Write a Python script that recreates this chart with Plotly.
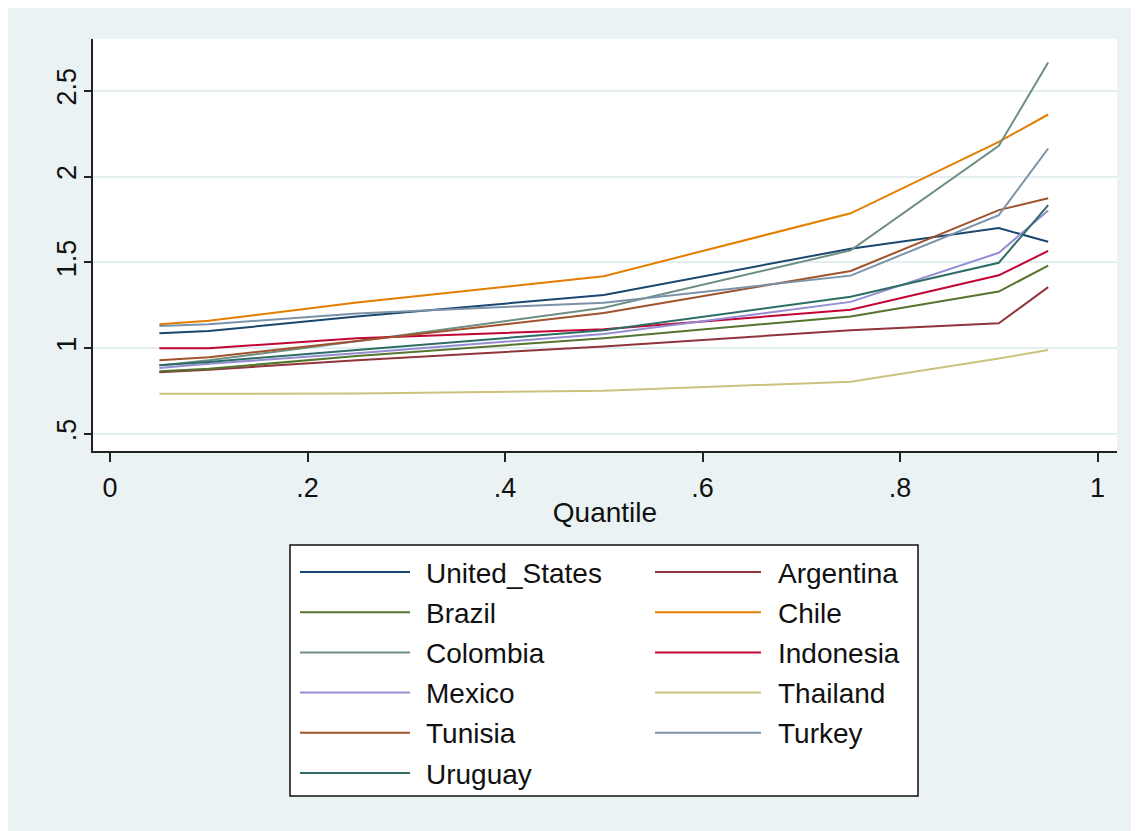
import plotly.graph_objects as go

# ---------------- data ----------------
quantiles = [0.05, 0.10, 0.25, 0.50, 0.75, 0.90, 0.95]

countries = ["United_States", "Argentina", "Brazil", "Chile", "Colombia",
             "Indonesia", "Mexico", "Thailand", "Tunisia", "Turkey", "Uruguay"]

united_states = [1.087, 1.10, 1.185, 1.31, 1.58, 1.70, 1.62]
argentina     = [0.86, 0.875, 0.93, 1.01, 1.105, 1.145, 1.356]
brazil        = [0.866, 0.88, 0.955, 1.058, 1.185, 1.33, 1.482]
chile         = [1.14, 1.16, 1.266, 1.42, 1.786, 2.203, 2.362]
colombia      = [0.90, 0.93, 1.04, 1.236, 1.57, 2.18, 2.665]
indonesia     = [1.00, 1.00, 1.058, 1.11, 1.224, 1.425, 1.567]
mexico        = [0.885, 0.91, 0.97, 1.083, 1.27, 1.556, 1.803]
thailand      = [0.734, 0.734, 0.736, 0.752, 0.805, 0.94, 0.99]
tunisia       = [0.93, 0.947, 1.042, 1.205, 1.45, 1.805, 1.874]
turkey        = [1.13, 1.14, 1.203, 1.265, 1.423, 1.776, 2.164]
uruguay       = [0.90, 0.92, 0.99, 1.105, 1.30, 1.498, 1.834]

series = [united_states, argentina, brazil, chile, colombia,
          indonesia, mexico, thailand, tunisia, turkey, uruguay]

colors = ["#1A476F", "#90353B", "#55752F", "#E37E00", "#6E8E84",
          "#C10534", "#938DD2", "#CAC27E", "#A0522D", "#7B92A8", "#2D6D66"]

x_tickvals = [0, 0.2, 0.4, 0.6, 0.8, 1.0]
x_ticktext = ["0", ".2", ".4", ".6", ".8", "1"]
y_tickvals = [0.5, 1.0, 1.5, 2.0, 2.5]
y_ticktext = [".5", "1", "1.5", "2", "2.5"]

# ---------------- layout geometry ----------------
OFF = 8                                  # page body margin
W, H = 1139 - OFF, 831 - OFF
L, R, T, B = 93, 1117, 39, 451          # plot area in page pixels
FONT = "Liberation Sans, Arial, sans-serif"
BG = "#EAF2F3"


def px2x(px):
    return (px - L) / (R - L)


def px2y(py):
    return (B - py) / (B - T)


fig = go.Figure()
for name, vals, col in zip(countries, series, colors):
    fig.add_trace(go.Scatter(x=quantiles, y=vals, mode="lines", name=name,
                             line=dict(color=col, width=2), showlegend=False))

shapes = []
annotations = []

# manual legend (two columns, row-major)
box = dict(x0=290, x1=918, y0=545, y1=796)
shapes.append(dict(type="rect", xref="paper", yref="paper",
                   x0=px2x(box["x0"]), x1=px2x(box["x1"]),
                   y0=px2y(box["y1"]), y1=px2y(box["y0"]),
                   fillcolor="white", line=dict(color="#111111", width=1.5)))
col_line = [(300, 410), (655, 761)]
col_text = [424, 776]
row0, pitch = 572, 40.2
for i, (name, col) in enumerate(zip(countries, colors)):
    r, c = divmod(i, 2)
    yy = row0 + r * pitch
    shapes.append(dict(type="line", xref="paper", yref="paper",
                       x0=px2x(col_line[c][0]), x1=px2x(col_line[c][1]),
                       y0=px2y(yy), y1=px2y(yy),
                       line=dict(color=col, width=2)))
    annotations.append(dict(xref="paper", yref="paper", x=px2x(col_text[c]),
                            y=px2y(yy + 1), xanchor="left", yanchor="middle",
                            text=name, showarrow=False,
                            font=dict(family=FONT, size=28, color="#111111")))

fig.update_layout(
    width=W, height=H,
    margin=dict(l=L - OFF, r=1139 - R, t=T - OFF, b=831 - B, pad=0),
    paper_bgcolor=BG, plot_bgcolor="white",
    font=dict(family=FONT, size=27, color="#111111"),
    shapes=shapes, annotations=annotations,
    showlegend=False,
)
fig.update_xaxes(
    range=[-0.0172, 1.0197], tickvals=x_tickvals, ticktext=x_ticktext,
    showgrid=False, zeroline=False, showline=True, linecolor="#222222",
    linewidth=2, ticks="outside", ticklen=9, tickwidth=2, tickcolor="#222222",
    tickfont=dict(size=27), ticklabelstandoff=3,
    title=dict(text="Quantile", font=dict(size=28), standoff=0),
)
fig.update_yaxes(
    range=[0.401, 2.802], tickvals=y_tickvals, ticktext=y_ticktext,
    showgrid=True, gridcolor="#E3EEF0", gridwidth=2, zeroline=False,
    showline=True, linecolor="#222222", linewidth=2, ticks="outside",
    ticklen=7, tickwidth=2, tickcolor="#222222", tickangle=-90,
    tickfont=dict(size=27), ticklabelstandoff=-3,
)

fig.write_html("out.html")
